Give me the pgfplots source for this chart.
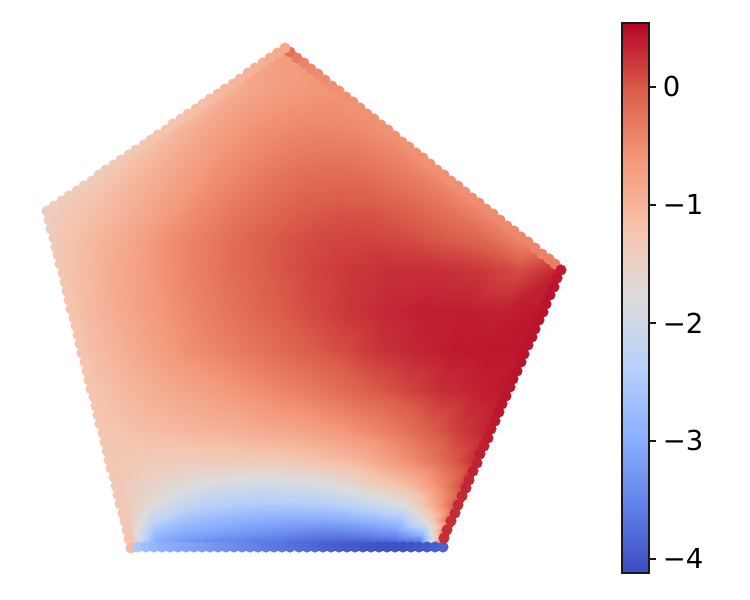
\documentclass[border=0pt]{standalone}
\usepackage{fontspec}
\setmainfont{DejaVu Sans}
\usepackage{pgfplots}
\pgfplotsset{compat=1.18}
\pgfplotsset{colormap={cw}{rgb255(0)=(58,76,192) rgb255(1)=(98,130,234) rgb255(2)=(141,176,254) rgb255(3)=(184,208,249) rgb255(4)=(221,220,220) rgb255(5)=(245,196,173) rgb255(6)=(244,152,122) rgb255(7)=(220,95,75) rgb255(8)=(180,4,38)}}
\begin{document}
\begin{tikzpicture}
\useasboundingbox (0pt,0pt) rectangle (750pt,600pt);
\begin{axis}[at={(0pt,0pt)},anchor=south west,scale only axis,width=750pt,height=600pt,
  xmin=0,xmax=750,ymin=0,ymax=600,y dir=reverse,hide axis,clip=false,
  point meta min=-4.119,point meta max=0.542,colormap name=cw]
\addplot[surf,shader=interp,mesh/rows=18,mesh/cols=13,point meta=explicit] table[meta=v,row sep=\\]{
x y v\\
283 47 -.7\\ 283.5 47 -.7\\ 284 47 -.7\\ 284.5 47 -.7\\ 285 47 -.7\\ 285.5 47 -.7\\ 286 47 -.7\\ 286.5 47 -.7\\ 287 47 -.7\\ 287.5 47 -.7\\ 288 47 -.7\\ 288.5 47 -.7\\ 289 47 -.7\\
221 90 -1\\ 231 90 -.95\\ 241 90 -.85\\ 250 90 -.8\\ 260 90 -.75\\ 270 90 -.72\\ 280 90 -.68\\ 290 90 -.66\\ 300 90 -.64\\ 309 90 -.62\\ 319 90 -.6\\ 329 90 -.6\\ 339 90 -.6\\
163 130 -1.15\\ 182 130 -1\\ 200.5 130 -.85\\ 219 130 -.72\\ 238 130 -.62\\ 257 130 -.55\\ 275.5 130 -.5\\ 294 130 -.45\\ 313 130 -.43\\ 332 130 -.43\\ 350.5 130 -.45\\ 369 130 -.5\\ 388 130 -.55\\
105 170 -1.3\\ 133 170 -1.1\\ 160.5 170 -.9\\ 188 170 -.72\\ 216 170 -.55\\ 244 170 -.42\\ 271.5 170 -.3\\ 299 170 -.22\\ 327 170 -.18\\ 355 170 -.2\\ 382.5 170 -.28\\ 410 170 -.38\\ 438 170 -.55\\
46 211 -1.42\\ 83 211 -1.2\\ 120 211 -1\\ 156.5 211 -.75\\ 193 211 -.5\\ 230 211 -.3\\ 267 211 -.14\\ 304 211 -.02\\ 341 211 .03\\ 377.5 211 .02\\ 414 211 -.08\\ 451 211 -.25\\ 488 211 -.5\\
53 240 -1.3\\ 92 240 -1.05\\ 131.5 240 -.8\\ 171 240 -.5\\ 210 240 -.3\\ 249 240 -.1\\ 288.5 240 .04\\ 328 240 .12\\ 367 240 .14\\ 406 240 .1\\ 445.5 240 0\\ 485 240 -.12\\ 524 240 -.45\\
60.5 270 -1.25\\ 102 270 -.95\\ 144 270 -.68\\ 186 270 -.42\\ 227 270 -.2\\ 269 270 -.02\\ 311 270 .12\\ 352.5 270 .22\\ 394 270 .27\\ 436 270 .27\\ 478 270 .22\\ 519 270 .08\\ 561 270 .35\\
70.6 310 -1.2\\ 110 310 -.92\\ 149.5 310 -.68\\ 189 310 -.45\\ 228.4 310 -.25\\ 268 310 -.07\\ 307.3 310 .08\\ 347 310 .22\\ 386 310 .32\\ 425.6 310 .38\\ 465 310 .38\\ 504.5 310 .36\\ 544 310 .42\\
81 350 -1.2\\ 118 350 -.96\\ 155 350 -.72\\ 192 350 -.52\\ 230 350 -.36\\ 267 350 -.2\\ 304 350 -.05\\ 341 350 .08\\ 378 350 .24\\ 416 350 .34\\ 453 350 .4\\ 490 350 .42\\ 527 350 .42\\
91 390 -1.22\\ 126 390 -1.05\\ 161 390 -.88\\ 196 390 -.75\\ 231 390 -.62\\ 266 390 -.48\\ 300 390 -.35\\ 335 390 -.2\\ 370 390 -.03\\ 405 390 .12\\ 440 390 .28\\ 475 390 .36\\ 510 390 .42\\
101 430 -1.25\\ 134 430 -1.15\\ 166 430 -1.08\\ 199 430 -1\\ 232 430 -.95\\ 264 430 -.85\\ 297 430 -.78\\ 330 430 -.66\\ 362 430 -.5\\ 395 430 -.3\\ 428 430 -.05\\ 460 430 .2\\ 493 430 .4\\
108.5 460 -1.28\\ 139.5 460 -1.32\\ 170.5 460 -1.35\\ 201 460 -1.35\\ 232 460 -1.35\\ 263 460 -1.33\\ 294 460 -1.28\\ 325 460 -1.15\\ 356 460 -1\\ 387 460 -.72\\ 418 460 -.42\\ 449 460 -.05\\ 480 460 .36\\
115 485 -1.3\\ 144 485 -1.5\\ 174 485 -1.7\\ 203 485 -1.85\\ 233 485 -1.95\\ 262 485 -2\\ 292 485 -1.95\\ 321 485 -1.85\\ 351 485 -1.65\\ 380 485 -1.35\\ 410 485 -1.05\\ 439 485 -.5\\ 469 485 .32\\
120 505 -1.3\\ 148 505 -1.7\\ 177 505 -2.1\\ 205 505 -2.35\\ 234 505 -2.45\\ 262 505 -2.5\\ 290.5 505 -2.5\\ 319 505 -2.45\\ 347 505 -2.35\\ 376 505 -2.1\\ 404 505 -1.8\\ 433 505 -.9\\ 461 505 .3\\
124 520 -1.3\\ 151.5 520 -2.2\\ 179 520 -2.6\\ 206.5 520 -2.8\\ 234 520 -2.9\\ 261.5 520 -3\\ 289 520 -3.05\\ 316.5 520 -3.05\\ 344 520 -3\\ 371.5 520 -2.85\\ 399 520 -2.65\\ 426.5 520 -1.6\\ 454 520 .3\\
127 532 -1.3\\ 154 532 -2.7\\ 181 532 -3\\ 207.5 532 -3.1\\ 234 532 -3.2\\ 261 532 -3.3\\ 288 532 -3.4\\ 315 532 -3.5\\ 342 532 -3.5\\ 368.5 532 -3.4\\ 395 532 -3.25\\ 422 532 -2.7\\ 449 532 .25\\
129 541 -1.3\\ 155 541 -3\\ 182 541 -3.25\\ 208 541 -3.4\\ 234 541 -3.5\\ 261 541 -3.6\\ 287 541 -3.7\\ 313 541 -3.8\\ 340 541 -3.85\\ 366 541 -3.85\\ 392 541 -3.8\\ 419 541 -3.6\\ 445 541 .3\\
131 547 -2.5\\ 157 547 -2.95\\ 183 547 -3.1\\ 209 547 -3.25\\ 235 547 -3.45\\ 261 547 -3.55\\ 287 547 -3.7\\ 313 547 -3.8\\ 339 547 -3.95\\ 365 547 -4\\ 391 547 -4.05\\ 417 547 -4\\ 443 547 -3.9\\
};
% edge points
\addplot[scatter,only marks,mark=*,mark size=5.3pt,point meta=explicit,scatter/use mapped color={draw=mapped color,fill=mapped color}] table[meta=v,row sep=\\]{
x y v\\
290 52 -.22\\ 297 58 -.32\\ 304 63 -.4\\ 311 69 -.45\\ 318 74 -.48\\ 325 80 -.5\\ 332 86 -.52\\ 339 91 -.53\\ 346 97 -.55\\ 353 102 -.55\\ 360 108 -.55\\ 367 114 -.55\\ 374 119 -.55\\ 381 125 -.55\\ 388 130 -.55\\ 395 136 -.55\\ 402 142 -.55\\ 409 147 -.55\\ 416 153 -.55\\ 423 158 -.55\\ 430 164 -.55\\ 437 170 -.55\\ 444 175 -.55\\ 451 181 -.55\\ 458 186 -.53\\ 465 192 -.53\\ 472 198 -.52\\ 479 203 -.5\\ 486 209 -.5\\ 493 214 -.5\\ 500 220 -.48\\ 507 226 -.48\\ 514 231 -.46\\ 521 237 -.45\\ 528 242 -.44\\ 535 248 -.42\\ 542 254 -.4\\ 549 259 -.38\\ 555 264 -.35\\
285 48 -.85\\ 277.6 53 -.87\\ 270 58 -.9\\ 263 63 -.92\\ 255 68 -.95\\ 248 73 -.97\\ 240 79 -1\\ 233 84 -1.02\\ 225 89 -1.04\\ 218 94 -1.07\\ 210 99 -1.1\\ 203 104 -1.12\\ 196 109 -1.14\\ 188 114 -1.16\\ 181 119 -1.18\\ 173 124 -1.2\\ 166 130 -1.21\\ 158 135 -1.22\\ 151 140 -1.24\\ 144 145 -1.26\\ 136 150 -1.27\\ 129 155 -1.28\\ 121 160 -1.3\\ 114 165 -1.31\\ 106 170 -1.32\\ 99 175 -1.34\\ 92 181 -1.35\\ 84 186 -1.37\\ 77 191 -1.38\\ 69 196 -1.4\\ 62 201 -1.4\\ 54 206 -1.42\\ 47 211 -1.42\\
49 220 -1.4\\ 51 229 -1.38\\ 54 238 -1.36\\ 56 247 -1.33\\ 58 255 -1.3\\ 60 264 -1.28\\ 63 273 -1.26\\ 65 282 -1.24\\ 67 291 -1.22\\ 69 300 -1.2\\ 71 309 -1.2\\ 74 318 -1.2\\ 76 326 -1.2\\ 78 335 -1.2\\ 80 344 -1.2\\ 82 353 -1.2\\ 85 362 -1.2\\ 87 371 -1.2\\ 89 380 -1.22\\ 91 389 -1.22\\ 94 397 -1.22\\ 96 406 -1.24\\ 98 415 -1.24\\ 100 424 -1.25\\ 103 433 -1.25\\ 105 442 -1.26\\ 107 451 -1.27\\ 109 460 -1.28\\ 111 468 -1.28\\ 114 477 -1.28\\ 116 486 -1.28\\ 118 495 -1.28\\ 120 504 -1.28\\ 123 513 -1.28\\ 125 521 -1.28\\ 127 530 -1.25\\ 129 539 -1.2\\ 131 548 -1.1\\
138 547 -2.55\\ 146 547 -2.7\\ 154 547 -2.85\\ 162 547 -2.95\\ 170 547 -3\\ 178 547 -3.05\\ 186 547 -3.1\\ 194 547 -3.15\\ 202 547 -3.2\\ 210 547 -3.25\\ 218 547 -3.3\\ 226 547 -3.35\\ 234 547 -3.4\\ 242 547 -3.45\\ 250 547 -3.5\\ 258 547 -3.55\\ 266 547 -3.6\\ 274 547 -3.65\\ 282 547 -3.68\\ 290 547 -3.72\\ 299 547 -3.75\\ 307 547 -3.8\\ 315 547 -3.83\\ 323 547 -3.87\\ 331 547 -3.9\\ 339 547 -3.93\\ 347 547 -3.96\\ 355 547 -3.98\\ 363 547 -4\\ 371 547 -4.02\\ 379 547 -4.04\\ 387 547 -4.05\\ 395 547 -4.05\\ 403 547 -4.05\\ 411 547 -4.03\\ 419 547 -4\\ 427 547 -3.97\\ 435 547 -3.94\\ 443 547 -3.9\\
561 270 .4\\ 557 278 .42\\ 554 287 .44\\ 550 295 .45\\ 546 304 .45\\ 543 312 .45\\ 539 320 .45\\ 535 329 .45\\ 532 337 .45\\ 528 345 .45\\ 524 354 .45\\ 521 362 .45\\ 517 371 .45\\ 513 379 .45\\ 510 387 .44\\ 506 396 .43\\ 502 404 .42\\ 499 412 .42\\ 495 421 .41\\ 491 429 .4\\ 488 438 .39\\ 484 446 .38\\ 480 454 .37\\ 477 463 .36\\ 473 471 .35\\ 469 480 .33\\ 466 488 .32\\ 462 496 .31\\ 458 505 .3\\ 455 513 .29\\ 451 521 .28\\ 447 530 .27\\ 444 538 .27\\
};
\end{axis}
\begin{axis}[at={(622pt,27pt)},anchor=south west,scale only axis,width=27pt,height=550pt,
  xmin=0,xmax=1,ymin=-4.119,ymax=0.542,xtick=\empty,
  ytick={-4,-3,-2,-1,0},yticklabels={−4,−3,−2,−1,0},ytick pos=right,yticklabel pos=right,
  tick align=outside,major tick length=7.3pt,axis line style={line width=1.67pt,black!90},
  tick style={line width=1.67pt,black!90},
  yticklabel style={font=\fontsize{27.5pt}{27.5pt}\selectfont,text=black,xshift=3pt},
  point meta min=-4.119,point meta max=0.542,colormap name=cw,axis on top]
\addplot[surf,shader=interp,mesh/rows=2,mesh/cols=2,point meta=explicit] table[meta=v,row sep=\\]{
x y v\\
0 -4.119 -4.119\\ 1 -4.119 -4.119\\
0 0.542 0.542\\ 1 0.542 0.542\\
};
\end{axis}
\end{tikzpicture}
\end{document}
